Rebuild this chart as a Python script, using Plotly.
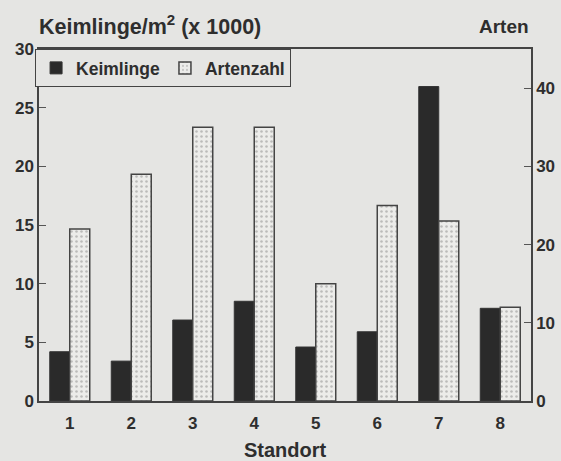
import plotly.graph_objects as go

standort = ["1", "2", "3", "4", "5", "6", "7", "8"]
keimlinge = [4.2, 3.4, 6.9, 8.5, 4.6, 5.9, 26.8, 7.9]
artenzahl = [22, 29, 35, 35, 15, 25, 23, 12]

left_ticks = [0, 5, 10, 15, 20, 25, 30]
right_ticks = [0, 10, 20, 30, 40]

font_family = "Liberation Sans, Arial, sans-serif"
ink = "#2e2e2e"
paper = "#e5e5e3"

fig = go.Figure()
fig.add_trace(go.Bar(
    x=standort, y=keimlinge, name="Keimlinge", offsetgroup=0, yaxis="y",
    marker=dict(color="#2a2a2a", line=dict(color="#333333", width=1)),
))
fig.add_trace(go.Bar(
    x=standort, y=artenzahl, name="Artenzahl", offsetgroup=1, yaxis="y2",
    marker=dict(color="#ececea", line=dict(color="#444444", width=1.5),
                pattern=dict(shape=".", fgcolor="#8a8a8a", bgcolor="#ececea",
                             size=5, solidity=0.2)),
))

tickfont = dict(size=17, weight="bold", color=ink, family=font_family)

fig.update_layout(
    width=561, height=461,
    margin=dict(l=39, r=30, t=49, b=60, autoexpand=False),
    paper_bgcolor=paper, plot_bgcolor=paper,
    barmode="group", bargap=0.35, bargroupgap=0,
    font=dict(family=font_family, color=ink, size=15),
    showlegend=True,
    legend=dict(
        orientation="h", x=-0.008, y=1.0, xanchor="left", yanchor="top",
        bgcolor=paper, bordercolor="#444444", borderwidth=1,
        font=dict(family=font_family, size=17.5, color=ink, weight="bold"),
        itemwidth=30, tracegroupgap=0,
    ),
    xaxis=dict(
        showline=True, linecolor="#444444", linewidth=1.5, mirror=True,
        ticks="", showgrid=False, automargin=False,
        tickfont=tickfont, ticklabelstandoff=6,
        title=dict(text="<b>Standort</b>", font=dict(size=20, color=ink), standoff=18),
    ),
    yaxis=dict(
        range=[0, 30], tickvals=left_ticks, showgrid=False, zeroline=False,
        showline=True, linecolor="#444444", linewidth=1.5, automargin=False,
        ticks="inside", ticklen=7, tickcolor="#555555",
        tickfont=tickfont,
    ),
    yaxis2=dict(
        overlaying="y", side="right", range=[0, 45], tickvals=right_ticks,
        showgrid=False, zeroline=False, automargin=False,
        showline=True, linecolor="#444444", linewidth=1.5,
        ticks="inside", ticklen=7, tickcolor="#555555",
        tickfont=tickfont,
    ),
    annotations=[
        dict(text="<b>Keimlinge/m<sup>2</sup> (x 1000)</b>", xref="paper", yref="paper",
             x=-0.005, y=1.0, xanchor="left", yanchor="bottom", yshift=8,
             showarrow=False, font=dict(size=21.5, color=ink)),
        dict(text="<b>Arten</b>", xref="paper", yref="paper",
             x=1.0, y=1.0, xanchor="right", yanchor="bottom", yshift=10,
             showarrow=False, font=dict(size=19, color=ink)),
    ],
)

fig.write_html(
    "out.html",
    config={"displayModeBar": False},
    post_script="document.body.style.margin='0';document.body.style.padding='0';"
                "document.body.style.overflow='hidden';",
)
